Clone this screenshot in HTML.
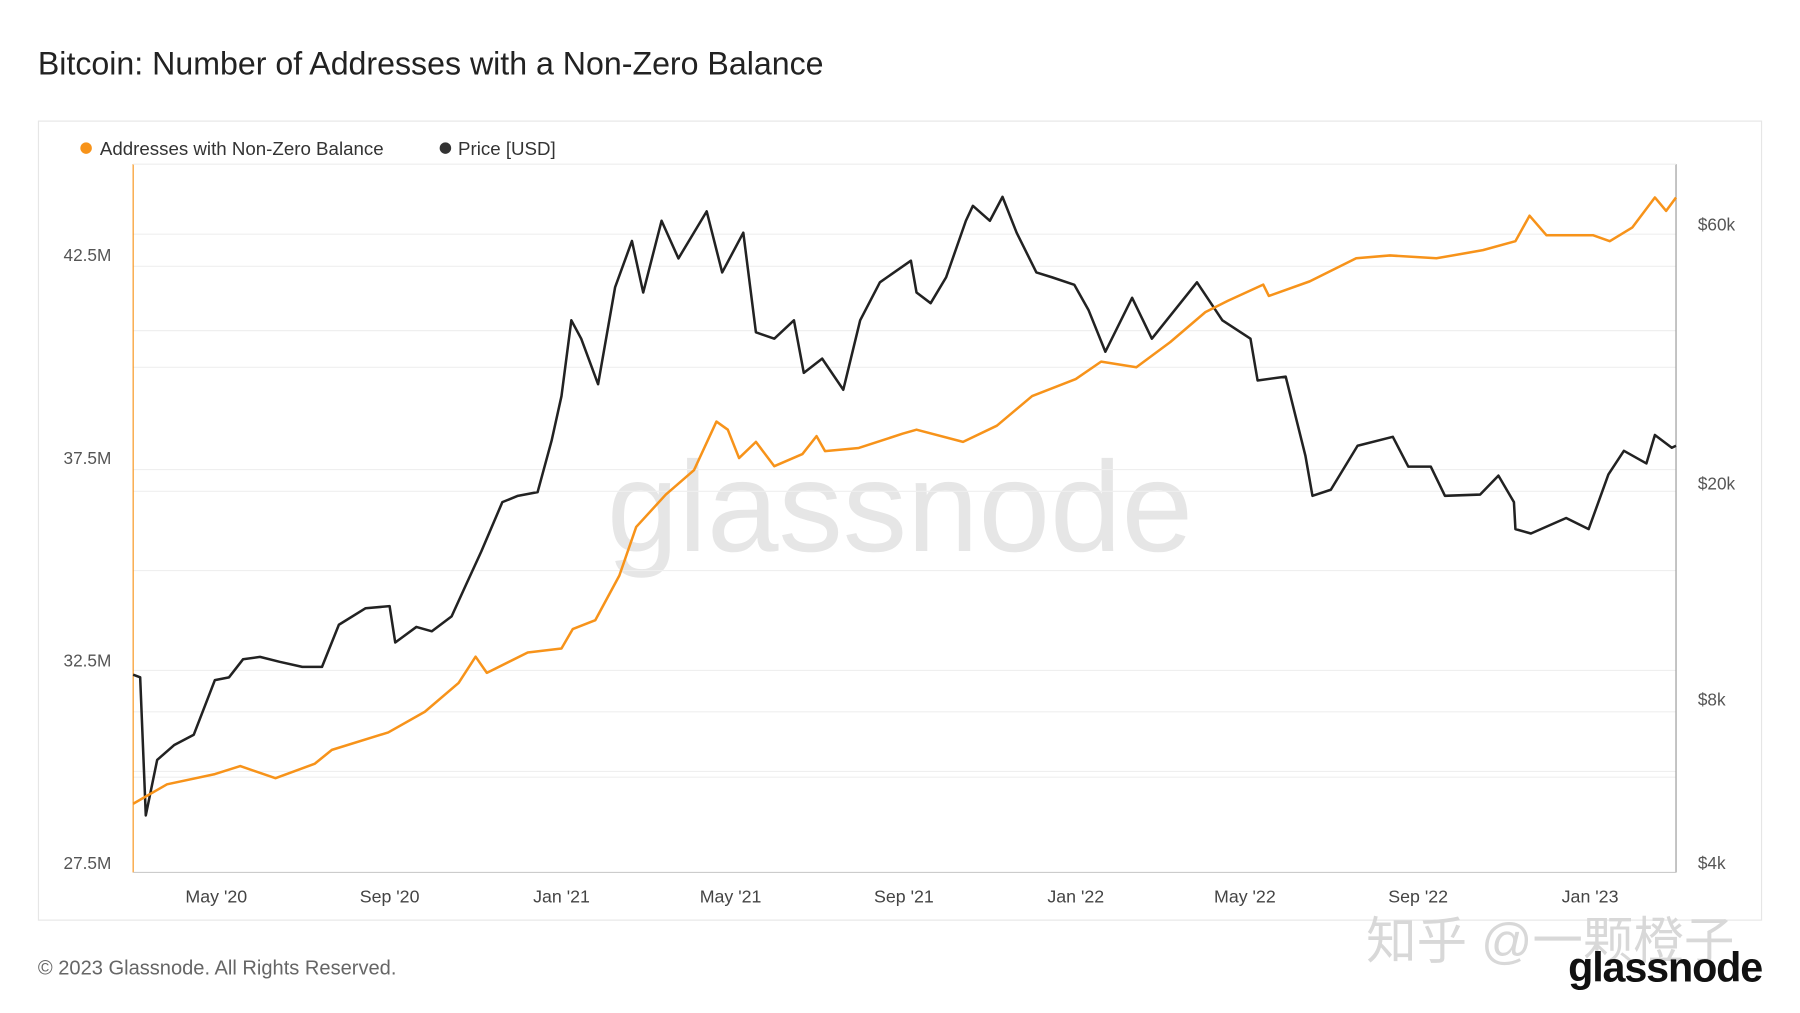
<!DOCTYPE html>
<html><head><meta charset="utf-8"><style>
html,body{margin:0;padding:0;background:#fff;}
svg{display:block;font-family:"Liberation Sans","Noto Sans CJK SC",sans-serif;}
</style></head><body>
<svg id="chart" width="1800" height="1013" viewBox="0 0 1568 882.4" preserveAspectRatio="none" xmlns="http://www.w3.org/2000/svg">
<rect x="0" y="0" width="1568" height="883" fill="#fff"/>
<text x="33" y="65" font-size="28" fill="#222">Bitcoin: Number of Addresses with a Non-Zero Balance</text>
<rect x="33.5" y="105.5" width="1501" height="696" fill="none" stroke="#e6e6e6"/>
<g>
<circle cx="75" cy="129" r="5" fill="#f7931a"/>
<text x="87" y="135" font-size="16.3" fill="#333">Addresses with Non-Zero Balance</text>
<circle cx="388" cy="129" r="5" fill="#333"/>
<text x="399" y="135" font-size="16.3" fill="#333">Price [USD]</text>
</g>
<text x="784" y="480" font-size="112" fill="#e6e6e6" text-anchor="middle">glassnode</text>
<g id="grid"></g>
<g id="axes"></g>
<g id="series"></g>
<text x="33" y="849" font-size="17.5" fill="#666">© 2023 Glassnode. All Rights Reserved.</text>
<text x="1190" y="835" font-size="44" fill="#d8d8d8">知乎 @一颗橙子</text>
<text x="1535" y="855" font-size="36" font-weight="bold" fill="#111" text-anchor="end" letter-spacing="-1">glassnode</text>
</svg>
<script>
const addrDates=["2020-03-03","2020-03-27","2020-04-30","2020-05-18","2020-06-12","2020-07-10","2020-07-22","2020-08-31","2020-09-26","2020-10-20","2020-11-01","2020-11-09","2020-12-08","2021-01-01","2021-01-09","2021-01-25","2021-02-11","2021-02-23","2021-03-16","2021-04-05","2021-04-21","2021-04-29","2021-05-07","2021-05-19","2021-06-01","2021-06-21","2021-07-01","2021-07-07","2021-07-31","2021-08-31","2021-09-10","2021-10-13","2021-11-06","2021-12-01","2022-01-01","2022-01-19","2022-02-13","2022-03-09","2022-04-03","2022-04-19","2022-05-14","2022-05-18","2022-06-16","2022-07-19","2022-08-12","2022-09-14","2022-10-17","2022-11-09","2022-11-19","2022-12-01","2023-01-03","2023-01-15","2023-01-31","2023-02-16","2023-02-24","2023-03-03"];
const addrValues=[28.97,29.45,29.7,29.9,29.6,29.96,30.3,30.73,31.24,31.95,32.6,32.2,32.7,32.8,33.28,33.5,34.6,35.8,36.6,37.2,38.4,38.2,37.5,37.9,37.3,37.6,38.04,37.67,37.75,38.1,38.2,37.9,38.3,39.03,39.45,39.88,39.74,40.36,41.1,41.38,41.78,41.5,41.86,42.43,42.5,42.43,42.63,42.85,43.48,43.0,43.0,42.85,43.19,43.93,43.6,43.93];
const priceDates=["2020-03-03","2020-03-08","2020-03-12","2020-03-20","2020-04-01","2020-04-15","2020-04-30","2020-05-10","2020-05-20","2020-06-01","2020-06-15","2020-07-01","2020-07-15","2020-07-27","2020-08-15","2020-09-01","2020-09-05","2020-09-20","2020-10-01","2020-10-15","2020-10-25","2020-11-05","2020-11-20","2020-12-01","2020-12-15","2020-12-25","2021-01-01","2021-01-08","2021-01-15","2021-01-27","2021-02-08","2021-02-20","2021-02-28","2021-03-13","2021-03-25","2021-04-14","2021-04-25","2021-05-10","2021-05-19","2021-06-01","2021-06-15","2021-06-22","2021-07-05","2021-07-20","2021-08-01","2021-08-15","2021-09-06","2021-09-10","2021-09-20","2021-10-01","2021-10-15","2021-10-20","2021-11-01","2021-11-10","2021-11-20","2021-12-04","2021-12-15","2021-12-31","2022-01-10","2022-01-22","2022-02-10","2022-02-24","2022-03-28","2022-04-15","2022-05-05","2022-05-10","2022-05-30","2022-06-13","2022-06-18","2022-07-01","2022-07-20","2022-08-14","2022-08-25","2022-09-10","2022-09-20","2022-10-15","2022-10-28","2022-11-08","2022-11-09","2022-11-20","2022-12-15","2022-12-31","2023-01-14","2023-01-25","2023-02-10","2023-02-16","2023-02-28","2023-03-03"];
const priceValues=[8900,8800,4900,6200,6600,6900,8700,8800,9500,9600,9400,9200,9200,11000,11800,11900,10200,10900,10700,11400,13000,15000,18500,19000,19300,24000,29000,40000,37000,30500,46000,56000,45000,61000,52000,63500,49000,58000,38000,37000,40000,32000,34000,29800,40000,47000,51500,45000,43000,48000,61000,65000,61000,67500,58000,49000,48000,46500,41800,35000,44000,37000,47000,40000,37000,31000,31500,22500,19000,19500,23500,24400,21500,21500,19000,19100,20700,18500,16500,16200,17300,16500,20800,23000,21800,24600,23300,23500];
const leftTicks=[27.5,32.5,37.5,42.5];
const leftTickLabels=["27.5M","32.5M","37.5M","42.5M"];
const rightTicks=[4000,8000,20000,60000];
const rightTickLabels=["$4k","$8k","$20k","$60k"];
const xTickDates=["2020-05-01","2020-09-01","2021-01-01","2021-05-01","2021-09-01","2022-01-01","2022-05-01","2022-09-01","2023-01-01"];
const xTickLabels=["May '20","Sep '20","Jan '21","May '21","Sep '21","Jan '22","May '22","Sep '22","Jan '23"];

(function(){
const NS="http://www.w3.org/2000/svg";
const PL=116,PR=1460,PT=143,PB=760;
const T0=Date.UTC(2020,2,3),T1=Date.UTC(2023,2,3);
function ts(s){const p=s.split('-');return Date.UTC(+p[0],+p[1]-1,+p[2]);}
function xScale(s){return PL+(ts(s)-T0)/(T1-T0)*(PR-PL);}
function yLeft(v){return 752-(v-27.5)*176.5/5;}
function yRight(v){return 752-Math.log10(v/4000)*473;}
function mk(tag,attrs,parent){const e=document.createElementNS(NS,tag);for(const k in attrs)e.setAttribute(k,attrs[k]);parent.appendChild(e);return e;}
const grid=document.getElementById('grid'),axes=document.getElementById('axes'),series=document.getElementById('series');
[204,232,288,320,409,428,497,584,620,672,677].forEach(y=>{
  const l=mk('line',{x1:PL,x2:PR,y1:y,y2:y,stroke:'#efefef','stroke-width':1},grid);
  
  
});
leftTicks.forEach((v,i)=>{
  const t=mk('text',{x:97,y:yLeft(v)+5,'font-size':15,fill:'#555','text-anchor':'end'},axes);
  t.textContent=leftTickLabels[i];
  
  
});
rightTicks.forEach((v,i)=>{
  const t=mk('text',{x:1479,y:yRight(v)+5,'font-size':15,fill:'#555'},axes);
  t.textContent=rightTickLabels[i];
  
  
});
xTickDates.forEach((d,i)=>{
  const t=mk('text',{x:xScale(d),y:786,'font-size':15.5,fill:'#444','text-anchor':'middle'},axes);
  t.textContent=xTickLabels[i];
  
  
});
const la=mk('line',{x1:PL,x2:PL,y1:PT,y2:PB,stroke:'#f7931a','stroke-width':1},axes);


const ra=mk('line',{x1:PR,x2:PR,y1:PT,y2:PB,stroke:'#999','stroke-width':1},axes);


const ba=mk('line',{x1:PL,x2:PR,y1:PB,y2:PB,stroke:'#ccc','stroke-width':1},axes);


const tb=mk('line',{x1:PL,x2:PR,y1:PT,y2:PT,stroke:'#eee','stroke-width':1},axes);


const pp=mk('path',{d:priceDates.map((d,i)=>(i?'L':'M')+xScale(d).toFixed(1)+','+yRight(priceValues[i]).toFixed(1)).join(''),fill:'none',stroke:'#222','stroke-width':2.2,'stroke-linejoin':'round'},series);


const ap=mk('path',{d:addrDates.map((d,i)=>(i?'L':'M')+xScale(d).toFixed(1)+','+yLeft(addrValues[i]).toFixed(1)).join(''),fill:'none',stroke:'#f7931a','stroke-width':2.2,'stroke-linejoin':'round'},series);


})();
</script>
</body></html>
